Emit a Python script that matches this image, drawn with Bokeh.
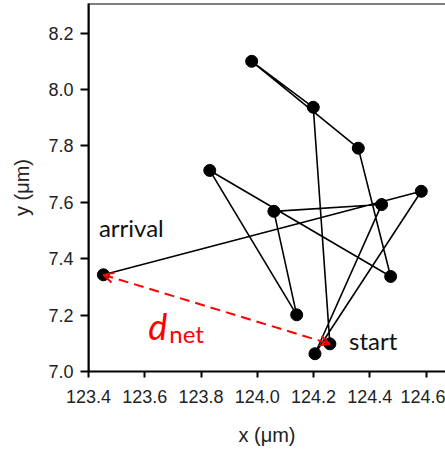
from bokeh.plotting import figure
from bokeh.models import (Arrow, OpenHead, Label, FixedTicker, Span,
                          PrintfTickFormatter, Range1d)
from bokeh.embed import file_html
from bokeh.resources import INLINE

# trajectory (start -> arrival), in micrometres
xs = [124.258, 124.199, 123.980, 124.359, 124.474, 123.831, 124.140,
      124.059, 124.442, 124.205, 124.583, 123.453]
ys = [7.098, 7.937, 8.100, 7.792, 7.337, 7.713, 7.201,
      7.568, 7.592, 7.063, 7.639, 7.343]

x_ticks = [123.4, 123.6, 123.8, 124.0, 124.2, 124.4, 124.6]
y_ticks = [7.0, 7.2, 7.4, 7.6, 7.8, 8.0, 8.2]

X0, X1 = 123.4, 124.669
Y0, Y1 = 7.0, 8.305

FONT = "Liberation Sans"
ANN_FONT = "Lato"

p = figure(width=445, height=448, output_backend="svg", toolbar_location=None,
           x_range=Range1d(X0, X1), y_range=Range1d(Y0, Y1),
           min_border_left=88, min_border_right=0, min_border_top=3,
           min_border_bottom=77)
p.outline_line_color = None
p.xgrid.visible = False
p.ygrid.visible = False
p.background_fill_color = "white"
p.border_fill_color = "white"

for ax, ticks in ((p.xaxis[0], x_ticks), (p.yaxis[0], y_ticks)):
    ax.ticker = FixedTicker(ticks=ticks)
    ax.formatter = PrintfTickFormatter(format="%.1f")
    ax.axis_line_width = 2
    ax.axis_line_color = "black"
    ax.major_tick_line_width = 2
    ax.major_tick_line_color = "black"
    ax.major_tick_in = 0
    ax.minor_tick_line_color = None
    ax.major_label_text_font = FONT
    ax.major_label_text_font_size = "18px"
    ax.major_label_text_color = "#222222"
    ax.axis_label_text_font = FONT
    ax.axis_label_text_font_size = "20px"
    ax.axis_label_text_font_style = "normal"
    ax.axis_label_text_color = "#222222"

p.xaxis[0].axis_label = "x (μm)"
p.yaxis[0].axis_label = "y (μm)"
p.yaxis[0].major_tick_out = 8
p.yaxis[0].major_label_standoff = 7
p.yaxis[0].axis_label_standoff = 12
p.xaxis[0].major_tick_out = 6
p.xaxis[0].major_label_standoff = 12
p.xaxis[0].axis_label_standoff = 18

# frame borders (left and top)
p.add_layout(Span(location=X0, dimension="height", line_color="black",
                  line_width=2))
p.add_layout(Span(location=Y1, dimension="width", line_color="black",
                  line_width=2))

# trajectory
p.line(xs, ys, line_color="black", line_width=1.6)
p.scatter(xs, ys, size=12, fill_color="black", line_color="black")

# net displacement arrow
p.add_layout(Arrow(x_start=xs[-1], y_start=ys[-1], x_end=xs[0], y_end=ys[0],
                   line_color="red", line_width=2, line_dash="10 6",
                   start=OpenHead(size=10, line_color="red", line_width=1.8),
                   end=OpenHead(size=10, line_color="red", line_width=1.8)))

# annotations
p.add_layout(Label(x=123.437, y=7.511, text="arrival", text_font=ANN_FONT,
                   text_font_size="24px", text_color="#111111",
                   text_baseline="alphabetic"))
p.add_layout(Label(x=124.326, y=7.110, text="start", text_font=ANN_FONT,
                   text_font_size="24px", text_color="#111111",
                   text_baseline="alphabetic"))
p.add_layout(Label(x=123.612, y=7.163, text="d", text_font=ANN_FONT,
                   text_font_style="italic", text_font_size="36px",
                   text_color="red", text_baseline="alphabetic"))
p.add_layout(Label(x=123.687, y=7.134, text="net", text_font=ANN_FONT,
                   text_font_size="24px", text_color="red",
                   text_baseline="alphabetic"))

open("out.html", "w").write(file_html(p, INLINE))
